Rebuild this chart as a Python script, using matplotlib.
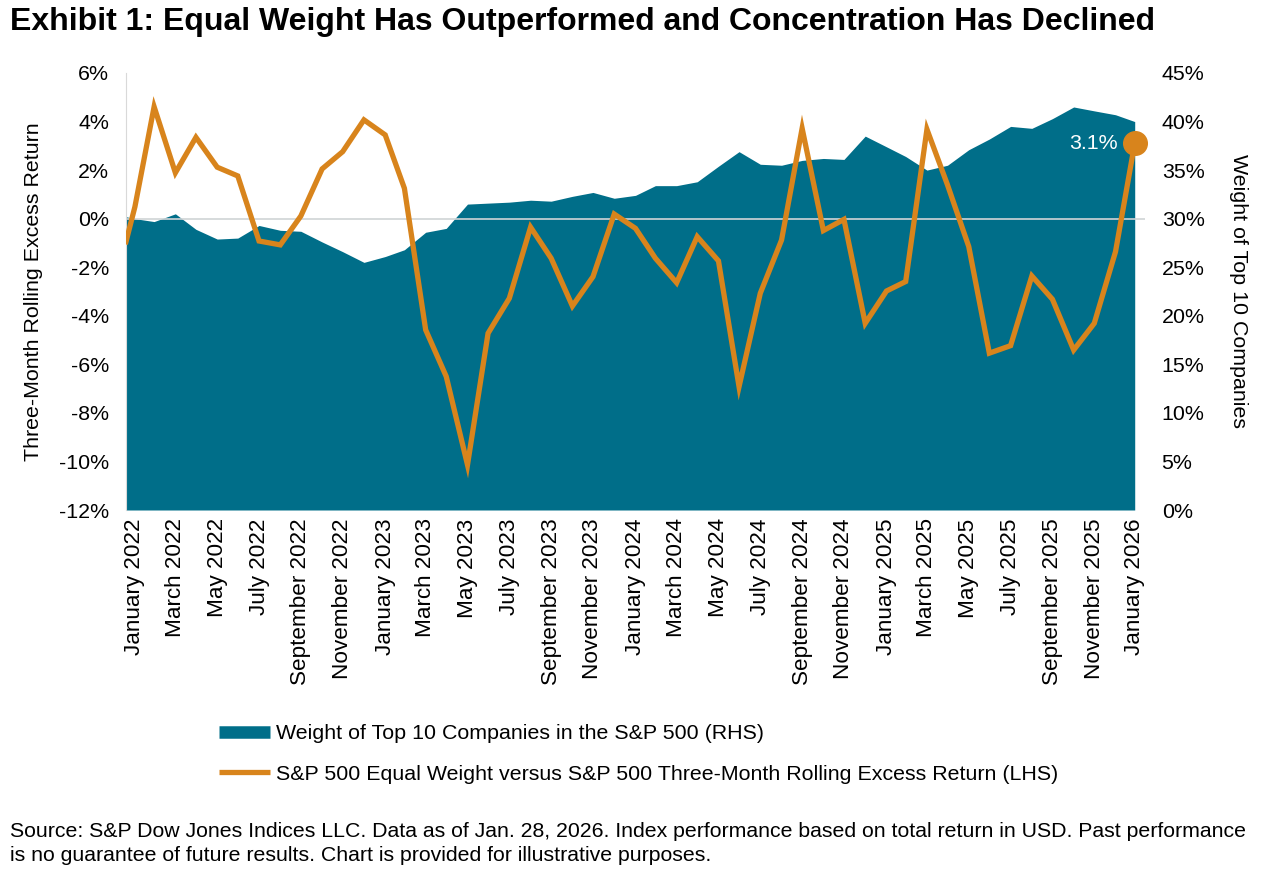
import numpy as np
import pandas as pd
import matplotlib
matplotlib.use("Agg")
from matplotlib import pyplot as plt
from matplotlib.lines import Line2D
import matplotlib.ticker as mticker

plt.rcParams['font.family'] = ['Liberation Sans', 'DejaVu Sans']

## data (month-end points, first one is a partial-month start)
start_date = "2022-01-18"
month_dates = list(pd.date_range("2022-01-31", "2025-12-31", freq="ME")) + [pd.Timestamp("2026-01-28")]
dates = [pd.Timestamp(start_date)] + month_dates

# S&P 500 Equal Weight vs S&P 500, three-month rolling excess return (%), LHS
excess_return = [-0.95,
                 0.49, 4.61, 1.89, 3.35, 2.12, 1.76, -0.92, -1.08, 0.11, 2.05, 2.76, 4.07,
                 3.45, 1.25, -4.58, -6.5, -10.14, -4.72, -3.28, -0.35, -1.63, -3.6, -2.39, 0.19,
                 -0.4, -1.63, -2.64, -0.74, -1.74, -6.92, -3.07, -0.88, 3.72, -0.49, -0.03, -4.31,
                 -2.98, -2.59, 3.68, 1.39, -1.15, -5.54, -5.23, -2.36, -3.32, -5.41, -4.31, -1.36,
                 3.1]

# weight of top 10 companies in the S&P 500 (%), RHS
top10_weight = [30.2,
                30.0, 29.7, 30.5, 28.9, 27.9, 28.0, 29.3, 28.8, 28.7, 27.6, 26.6, 25.5,
                26.1, 26.8, 28.6, 29.0, 31.5, 31.6, 31.7, 31.9, 31.8, 32.3, 32.7, 32.1,
                32.4, 33.4, 33.4, 33.8, 35.4, 36.9, 35.6, 35.5, 36.0, 36.2, 36.1, 38.5,
                37.4, 36.4, 35.0, 35.5, 37.1, 38.2, 39.5, 39.3, 40.3, 41.5, 41.1, 40.7,
                40.0]

left_ticks = np.arange(-12, 7, 2)
right_ticks = np.arange(0, 46, 5)

area_label = "Weight of Top 10 Companies in the S&P 500 (RHS)"
line_label = "S&P 500 Equal Weight versus S&P 500 Three-Month Rolling Excess Return (LHS)"
title = "Exhibit 1: Equal Weight Has Outperformed and Concentration Has Declined"
source = ("Source: S&P Dow Jones Indices LLC. Data as of Jan. 28, 2026. Index performance based on total return in USD. Past performance\n"
          "is no guarantee of future results. Chart is provided for illustrative purposes.")

TEAL = "#006e89"
ORANGE = "#d8841c"
FS = 15.4

fig = plt.figure(figsize=(12.67, 8.73), dpi=100)
ax = fig.add_axes([126/1267, 1-510/873, (1145-126)/1267, (510-73)/873])
ax2 = ax.twinx()

# area on the right axis, drawn behind the line
ax2.fill_between(dates, top10_weight, 0, color=TEAL, linewidth=0)
ax2.set_ylim(0, 45)
ax2.set_yticks(right_ticks)
ax2.yaxis.set_major_formatter(mticker.FuncFormatter(lambda v, p: f"{v:.0f}%"))

ax.set_zorder(ax2.get_zorder() + 1)
ax.patch.set_visible(False)

ax.axhline(0, color="#d0d4d6", linewidth=1.2, zorder=1)
ax.plot(dates, excess_return, color=ORANGE, linewidth=3.8, solid_joinstyle="miter", zorder=3)
ax.plot(dates[-1], excess_return[-1], "o", color=ORANGE, markersize=17, zorder=4, clip_on=False)
ax.annotate(f"{excess_return[-1]:.1f}%", (dates[-1], excess_return[-1]), xytext=(-12, 0),
            textcoords="offset points", ha="right", va="center", color="white", fontsize=FS)

ax.set_ylim(-12, 6)
ax.set_yticks(left_ticks)
ax.yaxis.set_major_formatter(mticker.FuncFormatter(lambda v, p: f"{v:.0f}%"))
ax.set_xlim(pd.Timestamp(start_date), month_dates[-1] + pd.Timedelta(days=15))

tick_dates = month_dates[::2]
ax.set_xticks(tick_dates)
ax.set_xticklabels([d.strftime("%B %Y") for d in tick_dates], rotation=90)

for a in (ax, ax2):
    for s in a.spines.values():
        s.set_visible(False)
    a.tick_params(length=0, labelsize=FS, colors="black")
ax.spines["left"].set_visible(True)
ax.spines["left"].set_color("#d9d9d9")
ax.tick_params(axis="y", pad=12)
ax.tick_params(axis="x", pad=6, labelsize=16.2)
ax2.tick_params(axis="y", pad=12)

ax.set_ylabel("Three-Month Rolling Excess Return", fontsize=FS, labelpad=12)
ax2.set_ylabel("Weight of Top 10 Companies", fontsize=FS, rotation=270, labelpad=31)

handles = [Line2D([], [], color=TEAL, linewidth=9, solid_capstyle="butt"),
           Line2D([], [], color=ORANGE, linewidth=3.8, solid_capstyle="butt")]
fig.legend(handles, [area_label, line_label], loc="upper left", bbox_to_anchor=(200/1267, 1-705/873),
           frameon=False, fontsize=FS, handlelength=2.35, handletextpad=0.32, labelspacing=1.0)

fig.text(10/1267, 1-22/873, title, fontsize=23, fontweight="bold", va="center", ha="left")
fig.text(10/1267, 1-822/873, source, fontsize=15.3, va="top", ha="left", linespacing=1.35)

fig.savefig("out.png", dpi=100)
